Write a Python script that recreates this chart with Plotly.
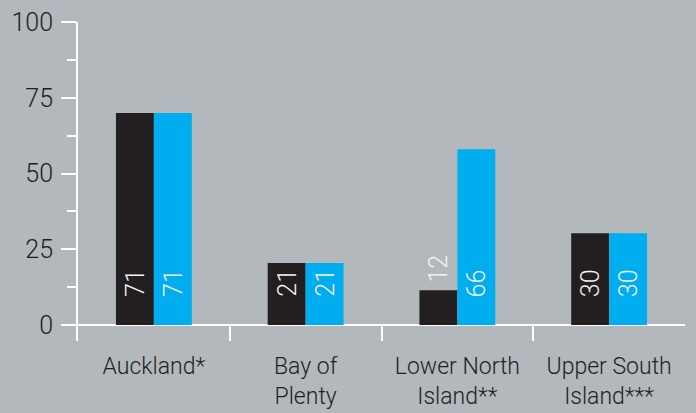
import plotly.graph_objects as go

categories = ["Auckland*", "Bay of<br>Plenty", "Lower North<br>Island**", "Upper South<br>Island***"]
series_a_values = [70, 20.5, 11.5, 30.3]
series_b_values = [70, 20.5, 58, 30.3]
series_a_labels = ["71", "21", "12", "30"]
series_b_labels = ["71", "21", "66", "30"]
y_tickvals = [0, 25, 50, 75, 100]
y_ticktext = ["0", "25", "50", "75", "100"]

BG = "#b3b8bc"
DARK = "#231f20"
BLUE = "#00adee"
FONT = "Roboto, sans-serif"
W = 300

fig = go.Figure()
fig.add_trace(go.Bar(x=categories, y=series_a_values, marker=dict(color=DARK, line=dict(width=0)),
                     showlegend=False, hoverinfo="skip"))
fig.add_trace(go.Bar(x=categories, y=series_b_values, marker=dict(color=BLUE, line=dict(width=0)),
                     showlegend=False, hoverinfo="skip"))

annotations = []
for offset, vals, labs in [(-19, series_a_values, series_a_labels), (19, series_b_values, series_b_labels)]:
    for cat, v, lab in zip(categories, vals, labs):
        inside = v >= 15
        annotations.append(dict(
            x=cat, y=0 if inside else v, xref="x", yref="y",
            xshift=offset, yshift=26 if inside else 6,
            text=lab, showarrow=False, textangle=-90,
            xanchor="center", yanchor="bottom",
            font=dict(family=FONT, size=25, color="#f2f2f2", weight=W),
        ))

fig.update_layout(
    width=696, height=413,
    margin=dict(l=78, r=11, t=22, b=72),
    paper_bgcolor=BG, plot_bgcolor=BG,
    barmode="group", bargap=0.5, bargroupgap=0,
    font=dict(family=FONT, size=25, color=DARK, weight=W),
    annotations=annotations,
)
fig.update_yaxes(
    range=[-5.28, 100], tickvals=y_tickvals, ticktext=y_ticktext,
    showgrid=False, showline=True, linecolor="white", linewidth=2,
    ticks="outside", ticklen=15, tickwidth=2, tickcolor="white",
    minor=dict(dtick=12.5, tick0=0, ticks="outside", ticklen=9, tickwidth=2, tickcolor="white", showgrid=False),
    zeroline=True, zerolinecolor="white", zerolinewidth=2,
    ticklabelstandoff=3, automargin=False,
    tickfont=dict(family=FONT, size=25, color=DARK, weight=W),
)
fig.update_xaxes(
    showgrid=False, showline=False, zeroline=False,
    ticks="inside", tickson="boundaries", ticklen=16, tickwidth=2, tickcolor="white",
    tickfont=dict(family=FONT, size=23, color=DARK, weight=W),
    ticklabelstandoff=9, automargin=False,
)

fig.write_html("out.html")
